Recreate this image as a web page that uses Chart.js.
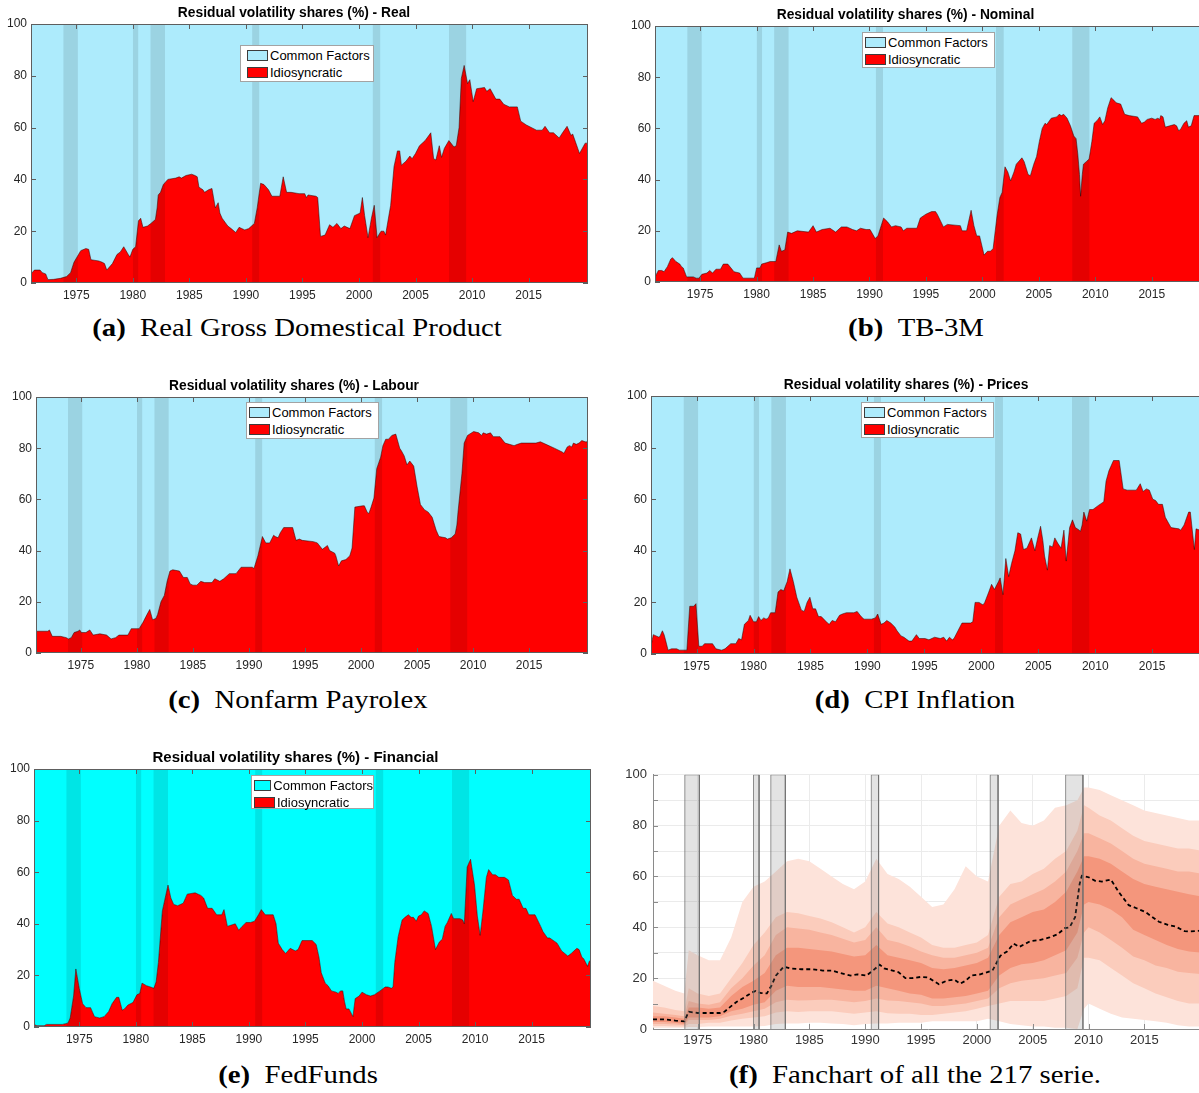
<!DOCTYPE html>
<html>
<head>
<meta charset="utf-8">
<script src="https://cdn.jsdelivr.net/npm/chart.js@4.4.1/dist/chart.umd.min.js"></script>
<style>
  body { margin: 0; width: 1199px; height: 1093px; overflow: hidden; background: #fff; position: relative;
         font-family: "Liberation Sans", Arial, sans-serif; }
  canvas { position: absolute; }
  .legend { position: absolute; background: #fff; border: 1px solid #a3a3a3; box-sizing: border-box;
            padding-top: 1px; font-size: 13px; color: #000; }
  .legend .row { height: 17px; display: flex; align-items: center; white-space: nowrap; }
  .legend .sw { width: 21px; height: 11px; border: 1px solid #3c3c3c; box-sizing: border-box; margin-right: 2px; }
  .cap { position: absolute; transform: translateX(-50%) scaleX(1.15); white-space: nowrap;
         font-family: "Liberation Serif", "DejaVu Serif", serif; font-size: 25px; line-height: 30px; color: #000; }
</style>
</head>
<body>
<div class="cap" style="left:297px;top:313px"><b>(a)</b>&ensp;Real Gross Domestical Product</div>
<div class="cap" style="left:916px;top:313px"><b>(b)</b>&ensp;TB-3M</div>
<div class="cap" style="left:298px;top:685px"><b>(c)</b>&ensp;Nonfarm Payrolex</div>
<div class="cap" style="left:915px;top:685px"><b>(d)</b>&ensp;CPI Inflation</div>
<div class="cap" style="left:298px;top:1060px"><b>(e)</b>&ensp;FedFunds</div>
<div class="cap" style="left:915px;top:1060px"><b>(f)</b>&ensp;Fanchart of all the 217 serie.</div>
<script>
// ---------------- data ----------------
const recessionStart = [1973.85, 1980.0, 1981.55, 1990.55, 2001.2, 2007.95];
const recessionEnd   = [1975.15, 1980.5, 1982.85, 1991.2, 2001.9, 2009.5];
const xTickYears = [1975, 1980, 1985, 1990, 1995, 2000, 2005, 2010, 2015];
const shareTicks = [0, 20, 40, 60, 80, 100];
const fanTicks = [0, 10, 20, 30, 40, 50, 60, 70, 80, 90, 100];

// idiosyncratic share (%) — [year, value]
const realShare = [
  [1971.0,3.5],[1971.3,5],[1971.8,5],[1972.0,4],[1972.3,3.5],[1972.5,1.3],[1973.0,1.4],[1973.6,1.8],[1974.15,2.5],[1974.5,4],
  [1974.8,8],[1975.2,11],[1975.4,12.5],[1975.85,13.3],[1976.1,13],[1976.3,9],[1977.0,8.5],[1977.3,8],[1977.5,7.5],[1977.7,5],
  [1978.2,7.5],[1978.6,11],[1978.9,12],[1979.2,14],[1979.6,11],[1979.75,10],[1980.0,13],[1980.25,14],[1980.5,24],[1980.7,25],
  [1980.9,21.5],[1981.3,22],[1981.6,23],[1982.0,24.5],[1982.15,29],[1982.25,34],[1982.45,35],[1982.7,38],[1983.1,40],[1983.8,40.5],
  [1984.1,41],[1984.3,40.5],[1984.7,41.5],[1985.2,42],[1985.5,41.5],[1985.7,41],[1985.85,37],[1986.2,36],[1986.35,35],[1986.7,36],
  [1987.0,36.5],[1987.3,29],[1987.55,31],[1987.7,27],[1987.9,25],[1988.4,22],[1988.7,21],[1989.1,19.5],[1989.4,21.5],[1989.9,20.5],
  [1990.25,21],[1990.75,23],[1991.0,29],[1991.3,38.5],[1991.6,38],[1992.0,36],[1992.3,33.5],[1993.0,33.5],[1993.3,41],[1993.6,35],
  [1994.0,35],[1994.7,34.5],[1995.2,34.5],[1995.35,33],[1995.5,34],[1996.2,33.5],[1996.35,33],[1996.6,18],[1997.0,18.5],[1997.4,22.5],
  [1997.7,21.5],[1998.05,23],[1998.4,21],[1998.7,22],[1999.2,21],[1999.6,26],[2000.1,27],[2000.3,33],[2000.5,26],[2000.8,17.5],
  [2001.1,25],[2001.35,30],[2001.6,17.5],[2001.95,20],[2002.2,20],[2002.35,18.5],[2002.8,30],[2003.1,45],[2003.4,51],[2003.6,51],
  [2003.75,45.5],[2004.15,47],[2004.5,49],[2004.7,48],[2005.0,50],[2005.35,53],[2005.85,55],[2006.35,58],[2006.6,48],[2006.8,47.5],
  [2007.1,53],[2007.3,48.5],[2007.55,52],[2007.95,55],[2008.4,52.5],[2008.6,53],[2008.85,60],[2009.05,79],[2009.3,84],[2009.6,77],
  [2009.8,78.5],[2010.1,70],[2010.4,75],[2011.1,75.5],[2011.3,74],[2011.6,75],[2012.1,71],[2012.45,71],[2012.8,69],[2013.3,68],
  [2014.0,68],[2014.3,62.5],[2014.8,61],[2015.7,59],[2016.2,59],[2016.45,60.5],[2016.85,58],[2017.2,58],[2017.7,56],[2018.0,58],
  [2018.4,60.5],[2018.75,57],[2018.9,57.5],[2019.5,50],[2019.75,52],[2020.0,54],[2020.25,54]
];
const nominalShare = [
  [1971.0,2],[1971.3,4.5],[1971.6,4.5],[1971.8,4],[1972.1,6],[1972.4,9],[1972.55,9.5],[1972.85,8],[1973.2,7],[1973.35,6],
  [1973.5,5.5],[1973.8,2],[1974.4,2],[1974.65,1.5],[1974.9,1.5],[1975.15,3],[1975.6,3.5],[1975.85,4.5],[1976.1,3.5],[1976.4,5],
  [1976.8,5],[1977.05,7],[1977.45,7],[1978.0,4],[1978.5,3.5],[1978.8,1.5],[1979.8,1.5],[1980.0,5.5],[1980.3,5.5],[1980.45,7],
  [1980.85,7.5],[1981.2,8],[1981.7,8],[1982.0,14.5],[1982.2,12],[1982.5,12.5],[1982.75,19.5],[1983.1,19],[1983.6,20],[1984.6,19.5],
  [1985.0,22],[1985.3,19.5],[1985.8,20.5],[1986.5,21],[1987.0,19.5],[1987.5,21.5],[1988.0,21.5],[1988.5,20.5],[1988.85,20],[1989.2,21],
  [1989.7,20.5],[1990.05,20.5],[1990.5,17],[1990.75,18],[1991.25,25],[1991.6,23.5],[1991.95,21.5],[1992.3,22],[1992.8,21.5],[1993.0,20],
  [1993.3,21],[1994.2,21],[1994.5,25],[1995.0,26.5],[1995.5,27.5],[1995.85,27.5],[1996.0,26.5],[1996.55,21.5],[1996.9,22.5],[1998.05,22],
  [1998.2,20],[1998.6,20],[1999.0,28],[1999.25,22],[1999.5,18],[1999.75,18],[2000.15,10.5],[2000.45,12],[2000.7,12],[2000.95,13],
  [2001.3,26],[2001.55,33],[2001.75,35],[2002.0,45],[2002.25,43],[2002.5,39.5],[2002.8,43],[2003.0,46],[2003.5,48.5],[2003.7,47],
  [2004.05,42],[2004.25,41.5],[2004.55,46],[2004.8,49],[2005.05,55],[2005.3,60],[2005.55,62],[2005.7,61.5],[2006.1,64],[2006.6,64.5],
  [2006.8,65.5],[2007.0,65],[2007.2,65.5],[2007.5,64],[2007.8,61],[2008.1,57],[2008.3,56],[2008.45,50],[2008.6,42],[2008.7,33.5],
  [2008.85,42],[2008.95,46],[2009.2,47],[2009.45,48],[2009.7,55],[2009.9,62],[2010.15,63],[2010.4,64.5],[2010.65,61.5],[2010.85,63],
  [2011.1,68],[2011.4,72],[2011.65,71],[2011.85,70],[2012.25,69.5],[2012.6,65.5],[2013.0,65],[2013.75,64.5],[2014.1,62],[2014.35,62.5],
  [2014.6,63.5],[2015.0,64],[2015.3,63.5],[2015.55,64],[2015.7,63.5],[2015.8,65],[2016.0,64.5],[2016.2,60.5],[2016.6,61],[2017.0,61.5],
  [2017.2,61],[2017.4,59],[2017.6,60],[2017.85,62],[2018.1,63],[2018.25,60.5],[2018.5,61],[2018.75,65],[2019.25,65],[2019.45,60],
  [2020.0,58],[2020.25,58]
];
const labourShare = [
  [1971.0,8.5],[1972.05,8.5],[1972.2,9],[1972.45,6.5],[1973.2,6.5],[1973.7,6],[1973.9,5.5],[1974.15,6],[1974.4,8],[1974.75,8.5],
  [1974.9,9],[1975.05,8],[1975.45,8],[1975.8,9],[1976.1,7],[1976.7,7.5],[1977.3,7],[1977.7,5.5],[1978.1,6],[1978.4,7],
  [1979.2,7],[1979.5,9.5],[1980.2,9.5],[1980.55,12],[1980.9,15],[1981.15,17],[1981.4,13],[1981.7,13.5],[1981.85,15],[1982.15,20],
  [1982.45,22.5],[1982.7,28],[1982.95,32],[1983.2,32.5],[1983.8,32],[1984.15,29.5],[1984.5,29.5],[1984.75,27],[1985.0,26.5],[1985.35,26.5],
  [1985.7,28],[1986.05,27.5],[1986.7,27.5],[1986.95,29],[1987.4,28],[1987.75,29],[1988.25,31],[1988.85,31],[1989.3,33.5],[1990.3,33.5],
  [1990.45,33],[1990.8,38],[1991.2,45.5],[1991.5,43],[1991.85,43],[1992.2,46],[1992.35,45.5],[1992.6,45],[1992.8,47],[1993.1,49],
  [1993.9,49],[1994.2,44],[1994.5,44.5],[1994.75,44],[1995.75,43.5],[1996.1,43],[1996.55,40.5],[1996.85,41.5],[1997.0,42],[1997.2,40],
  [1997.65,39],[1997.75,38],[1998.0,34],[1998.25,36],[1998.65,36.5],[1999.0,38],[1999.2,41],[1999.45,57],[2000.15,57.5],[2000.3,57.5],
  [2000.55,55],[2000.7,54.5],[2000.9,57],[2001.15,60.5],[2001.4,72],[2001.75,76.5],[2001.95,81],[2002.2,83.5],[2002.45,83.5],[2002.75,85],
  [2003.1,85.5],[2003.45,80],[2003.6,79],[2003.85,77],[2004.1,73.5],[2004.35,75],[2004.7,73],[2005.0,65],[2005.3,58],[2005.65,56],
  [2006.0,55],[2006.35,53],[2006.7,48],[2006.95,45.5],[2007.55,45],[2007.7,44.5],[2008.05,45],[2008.4,46.5],[2008.55,50],[2008.65,55],
  [2009.0,70],[2009.2,82],[2009.5,85],[2010.05,86.5],[2010.5,86],[2010.75,85],[2010.9,86],[2011.2,85.5],[2011.55,86],[2011.8,84.5],
  [2012.4,84.5],[2012.85,82],[2013.25,81.5],[2013.65,81],[2013.95,81.5],[2014.3,82],[2015.6,82],[2016.0,82.5],[2016.5,81.5],[2017.25,80],
  [2017.95,78.5],[2018.1,78],[2018.4,80.5],[2018.6,81],[2018.8,80.5],[2018.95,82],[2019.2,81.5],[2019.45,82],[2019.7,83],[2020.0,82.5],
  [2020.25,82.5]
];
const pricesShare = [
  [1971.0,3],[1971.2,7.5],[1971.45,7],[1971.7,6.5],[1971.8,7],[1972.0,9],[1972.15,7.5],[1972.3,5],[1972.5,1.5],[1972.8,2],
  [1973.25,2],[1973.5,1.5],[1974.15,1.5],[1974.4,18.5],[1974.75,18.5],[1974.95,19.5],[1975.2,3],[1975.5,3],[1975.7,4],[1976.4,4],
  [1976.7,2],[1977.2,1.5],[1977.5,2],[1978.0,4],[1978.45,4],[1978.7,6],[1978.95,5.5],[1979.2,11.5],[1979.55,13],[1979.7,15],
  [1980.0,12.5],[1980.25,12.5],[1980.45,14.5],[1980.65,13],[1980.9,14],[1981.1,13.5],[1981.3,14],[1981.5,16],[1981.9,16],[1982.15,24],
  [1982.4,25],[1982.65,24.5],[1982.95,28],[1983.2,33],[1983.5,28],[1983.8,22],[1984.2,17],[1984.45,16.5],[1984.7,20],[1984.95,22],
  [1985.2,17.5],[1985.45,17.5],[1985.7,14.5],[1985.95,14.5],[1986.5,12],[1986.65,11.5],[1986.9,13],[1987.2,12.5],[1987.55,15],[1987.8,15.5],
  [1988.15,16],[1988.8,16],[1989.1,16.5],[1989.45,14.5],[1989.7,13.5],[1990.35,13.5],[1990.7,14],[1990.9,15.5],[1991.2,11.5],[1991.45,12],
  [1991.7,13],[1992.05,12],[1992.4,10.5],[1992.6,9],[1992.95,7],[1993.2,6.5],[1993.65,5],[1993.9,5],[1994.3,7.5],[1994.55,6],
  [1995.05,6],[1995.4,5.5],[1995.9,6.5],[1996.4,6],[1996.7,6.5],[1996.95,5],[1997.2,6.5],[1997.45,5.5],[1997.6,6],[1997.95,9],
  [1998.3,12],[1999.05,12],[1999.25,12.5],[1999.45,20],[1999.8,20],[2000.15,19],[2000.3,20],[2000.65,24],[2000.9,27],[2001.15,25],
  [2001.5,28],[2001.65,29.5],[2001.9,23],[2002.15,37],[2002.4,30],[2002.65,35],[2002.95,40],[2003.2,47],[2003.45,46.5],[2003.7,40.5],
  [2004.0,41],[2004.2,43],[2004.4,45],[2004.7,40],[2004.95,45],[2005.2,49.5],[2005.4,44],[2005.55,38],[2005.8,32.5],[2006.0,42],
  [2006.25,41.5],[2006.45,45],[2006.7,43],[2007.0,41],[2007.25,48],[2007.45,36],[2007.75,49],[2008.0,52],[2008.25,49],[2008.6,48],
  [2008.7,47.5],[2008.85,50],[2009.0,55],[2009.25,51.5],[2009.5,56],[2009.8,56],[2010.25,57.5],[2010.75,59],[2010.95,67],[2011.2,71],
  [2011.6,75],[2012.1,75],[2012.45,64],[2012.8,63.5],[2013.6,63.5],[2013.95,66],[2014.2,63],[2014.5,64],[2014.75,63.5],[2015.05,60],
  [2015.3,59.5],[2015.55,58],[2015.9,58],[2016.15,53],[2016.65,49],[2017.35,48.5],[2017.5,48],[2017.8,50],[2018.2,55],[2018.35,55],
  [2018.7,40.5],[2018.85,48.5],[2019.2,48],[2019.5,49],[2020.0,49],[2020.25,49]
];
const financialShare = [
  [1971.0,1],[1971.25,0.5],[1971.9,0.5],[1972.1,1],[1973.5,1],[1974.0,1.5],[1974.2,3.5],[1974.5,12],[1974.7,22.5],[1975.0,15],
  [1975.3,9],[1975.6,7.5],[1976.0,7.5],[1976.35,4],[1976.8,3.5],[1977.2,4],[1977.6,6],[1977.9,9],[1978.3,11.5],[1978.5,11.5],
  [1978.8,6.5],[1979.0,7],[1979.3,8.5],[1979.75,9.5],[1980.1,12.5],[1980.35,13],[1980.55,17],[1980.95,16],[1981.3,15.5],[1981.6,15],
  [1981.8,17.5],[1982.0,25],[1982.35,45],[1982.6,50],[1982.85,55],[1983.1,50],[1983.35,47.5],[1983.7,47],[1984.2,48],[1984.55,51.5],
  [1985.25,52],[1985.75,51],[1986.0,50],[1986.35,46],[1986.75,46],[1987.15,43.5],[1987.6,43.5],[1987.8,45.5],[1988.1,39],[1988.45,39.5],
  [1988.8,40],[1989.1,37.5],[1989.4,39],[1989.75,40.5],[1990.15,40.5],[1990.5,41],[1990.85,43.5],[1991.1,45.5],[1991.45,43.5],[1992.15,43.5],
  [1992.4,40],[1992.6,32.5],[1992.95,30],[1993.25,28.5],[1993.65,30.5],[1994.1,29.5],[1994.35,30],[1994.7,33.5],[1995.6,33.5],[1995.95,32],
  [1996.2,27],[1996.4,21],[1996.75,17],[1997.0,16],[1997.3,14],[1997.7,13.5],[1997.9,13],[1998.1,14],[1998.3,14],[1998.45,10],
  [1998.6,7],[1998.85,7],[1999.2,4],[1999.4,11],[1999.75,12],[2000.0,13.5],[2000.4,12.5],[2000.75,12],[2001.1,12.5],[2001.6,14],
  [2002.05,15.5],[2002.3,15.5],[2002.6,15],[2002.75,15.5],[2002.9,25],[2003.2,35],[2003.55,41.5],[2003.8,42.5],[2004.1,43.5],[2004.35,42.5],
  [2004.55,42.5],[2004.8,41],[2005.0,43],[2005.25,43.5],[2005.5,45],[2005.85,44],[2006.15,39],[2006.5,30],[2006.85,33],[2007.1,34],
  [2007.35,39],[2007.55,40.5],[2007.9,44],[2008.1,42],[2008.65,42],[2008.9,41.5],[2009.05,40],[2009.3,62],[2009.6,65],[2009.95,55],
  [2010.2,43],[2010.45,35.5],[2010.7,45],[2011.0,58],[2011.2,61],[2011.55,59],[2011.8,59],[2012.1,58],[2012.6,58],[2012.95,57],
  [2013.3,51],[2013.65,49.5],[2013.9,49.5],[2014.25,46],[2014.5,46],[2014.75,43.5],[2015.3,43.5],[2015.8,39],[2016.0,37],[2016.4,34.5],
  [2016.6,34.5],[2017.25,32.5],[2017.65,29.5],[2018.2,27.5],[2018.5,28.5],[2019.0,30.5],[2019.2,30],[2019.45,27],[2019.6,26.5],[2019.95,23.5],
  [2020.1,25.5],[2020.25,26]
];

// fanchart of all series: quantile bands on a common year grid, plus the median
const fanYears = [1971, 1972, 1973, 1973.8, 1974.2, 1975, 1976, 1977, 1978, 1979,
  1980, 1981, 1982, 1983, 1984, 1985, 1986, 1987, 1988, 1989,
  1990, 1991, 1992, 1993, 1994, 1995, 1996, 1997, 1998, 1999,
  2000, 2001, 2002, 2003, 2004, 2005, 2006, 2007, 2008, 2009,
  2009.6, 2010, 2011, 2012, 2013, 2014, 2015, 2016, 2017, 2018,
  2019, 2020.25];
const fanHi1 = [19, 17, 15, 14, 31, 29, 27, 27, 36, 50,
  56, 58, 62, 66, 67, 66, 63, 60, 57, 55,
  58, 67, 61, 59, 56, 52, 48, 49, 55, 64,
  60, 58, 80, 86, 81, 80, 82, 87, 88, 90,
  95, 95, 94, 92, 90, 88, 86, 85, 84, 83,
  82, 82];
const fanHi2 = [9, 8.5, 7.5, 7, 16, 14, 13, 14, 20, 26,
  33, 38, 44, 46, 45.5, 44.5, 43.5, 42, 40, 38,
  40, 46, 41.5, 40, 38, 36, 33, 32, 32, 33,
  34, 37, 52, 57, 58, 61, 63, 67, 70, 78,
  88, 87, 84, 82, 79, 76, 74, 73, 72, 71,
  71, 70];
const fanHi3 = [6.5, 6, 5.5, 5, 11, 10, 9.5, 10.5, 16, 20,
  25, 29, 37, 40, 39.5, 39, 38, 37, 35.5, 34,
  35, 40, 35, 34, 32.5, 30.5, 29, 28, 28, 29,
  30, 32, 44, 49, 51, 53, 55, 58, 62, 70,
  77, 77, 75, 73, 70, 67, 65, 64, 63, 62,
  62, 61];
const fanHi4 = [5, 5, 4.5, 4, 8.5, 8.5, 8, 8.5, 13, 16.5,
  19, 22, 29, 32, 32, 31.5, 31, 30.5, 29.5, 28.5,
  29, 33, 29, 28, 27, 26, 24, 23.5, 24, 25,
  26, 28, 37, 42, 44, 46, 47, 50, 54, 62,
  68, 68, 67, 65, 62, 59, 57, 56, 55, 54,
  53, 52];
const fanLo4 = [2.8, 2.8, 2.5, 2, 4.5, 4.5, 4.5, 5, 7, 8,
  9.5, 10.5, 15, 17, 16.5, 16.5, 16.5, 16, 15.5, 15,
  15, 17, 16, 15, 14, 13.5, 12, 12, 12.5, 13,
  14, 15, 21, 24, 25.5, 26, 27, 29, 31, 38,
  49, 50, 49, 47, 44, 39, 37, 35, 33, 31.5,
  30.5, 30];
const fanLo3 = [2, 2, 1.8, 1.5, 3.5, 3.5, 3.5, 4, 5.2, 6,
  7, 8, 10.5, 11.5, 11.2, 11.3, 11.5, 11.5, 11, 10.5,
  11, 12, 11.2, 11, 10.5, 10, 9, 9, 9.5, 10,
  11, 12, 16, 18, 19, 19.5, 20, 21, 22, 28,
  38, 40, 38, 35, 32, 28.5, 27, 25, 24, 22.5,
  22, 21.5];
const fanLo2 = [1.2, 1.2, 1, 1, 2, 2, 2.5, 2.5, 3.3, 4,
  4.5, 5, 6.5, 7, 6.7, 7, 7, 7, 6.5, 6,
  6.5, 7, 6.2, 6, 6, 5.5, 5.5, 6, 6.5, 7,
  8, 9, 10, 11, 11, 11, 11, 12, 13, 16,
  28, 28, 27, 24, 21, 18, 16, 14, 12.5, 11,
  10, 10];
const fanLo1 = [0.5, 0.5, 0.5, 0.5, 0.8, 0.8, 1, 1, 1, 1,
  1, 1.2, 2, 2.2, 2.2, 2.5, 2.5, 2.2, 2, 1.5,
  2, 2.2, 2.2, 2.5, 2.5, 2.5, 3, 3, 3, 3,
  3, 4, 3, 2, 1.5, 1, 1, 0.5, 0.5, 0,
  8, 10, 8, 6, 4.5, 4, 3.5, 3, 2.5, 1.5,
  1, 1];
const fanMedian = [
  [1971.0,3.8],[1972,3.8],[1973,3.3],[1973.8,3.0],[1974.2,6.8],[1975,6.3],[1976,6.3],[1977,6.3],[1977.4,6.8],[1978,9],
  [1978.5,10.7],[1979.2,12.5],[1979.8,14.2],[1980.2,15],[1980.6,14.2],[1981.2,14],[1981.6,17],[1982.0,21],[1982.7,24.5],[1983.3,23.8],
  [1984.3,23.5],[1985.3,23.5],[1986.2,23],[1987,23],[1987.8,22],[1988.7,21],[1989.3,21.5],[1990.1,21],[1990.7,23],[1991.3,25.3],
  [1991.7,23.8],[1992.2,23.3],[1993,22.3],[1993.6,20],[1994.2,20],[1995,20.5],[1995.6,20.3],[1996.1,19],[1996.6,17.6],[1997.3,19],
  [1998,19.4],[1998.5,17.8],[1999,19],[1999.5,21],[2000.3,21.5],[2001.4,23],[2002.1,28.8],[2002.7,30.5],[2003.3,33.6],[2003.8,32.3],
  [2004.8,34.6],[2005.6,35],[2006.5,36],[2007.2,37.2],[2007.9,39.7],[2008.3,40],[2008.8,44],[2009.2,57],[2009.4,60.3],[2010,59.7],
  [2010.6,58.3],[2011.2,58],[2012,58.8],[2012.7,53.9],[2013.6,48.7],[2014.3,47.5],[2015.1,46],[2016.3,42.2],[2017.1,41],[2017.8,40.3],
  [2018.6,38.5],[2019,38.4],[2020.25,38.7]
];

// ---------------- styling / layout ----------------
const X_MIN = 1971, X_MAX = 2020.25;
const SKY = 'rgb(173,235,252)';
const AQUA = 'rgb(0,255,255)';
const RED = 'rgb(255,0,0)';
const FAN = ['rgb(253,227,218)', 'rgb(251,204,188)', 'rgb(248,180,159)', 'rgb(244,150,124)'];
const TICK_FONT = { family: '"Liberation Sans", Arial, sans-serif', size: 12 };

const axesDecor = {
  id: 'axesDecor',
  afterDatasetsDraw(chart, args, o) {
    const { ctx, chartArea: a } = chart;
    const x = chart.scales.x, y = chart.scales.y;
    ctx.save();
    ctx.strokeStyle = o.color;
    ctx.lineWidth = 1;
    if (o.box) ctx.strokeRect(a.left + 0.5, a.top + 0.5, a.width - 1, a.height - 1);
    ctx.beginPath();
    x.ticks.forEach(t => {
      const px = Math.round(x.getPixelForValue(t.value)) + 0.5;
      ctx.moveTo(px, a.bottom); ctx.lineTo(px, a.bottom - o.len);
      if (o.box) { ctx.moveTo(px, a.top); ctx.lineTo(px, a.top + o.len); }
    });
    y.ticks.forEach(t => {
      const py = Math.round(y.getPixelForValue(t.value)) + 0.5;
      ctx.moveTo(a.left, py); ctx.lineTo(a.left + o.len, py);
      if (o.box) { ctx.moveTo(a.right, py); ctx.lineTo(a.right - o.len, py); }
    });
    ctx.stroke();
    ctx.restore();
  }
};

function toPoints(pairs) { return pairs.map(d => ({ x: d[0], y: d[1] })); }

function placeCanvas(col, rect, topExtra, bottomExtra) {
  const cv = document.createElement('canvas');
  cv.width = rect.R - col + 4;
  cv.height = topExtra + (rect.B - rect.T) + bottomExtra;
  cv.style.left = col + 'px';
  cv.style.top = (rect.T - topExtra) + 'px';
  document.body.appendChild(cv);
  return cv;
}

function buildLegend(chart, lg) {
  const box = document.createElement('div');
  box.className = 'legend';
  Object.assign(box.style, { left: lg.left + 'px', top: lg.top + 'px', width: lg.width + 'px', height: lg.height + 'px' });
  chart.data.datasets.filter(d => d.label).sort((a, b) => a.legendOrder - b.legendOrder).forEach(d => {
    const row = document.createElement('div');
    row.className = 'row';
    row.style.paddingLeft = lg.pad + 'px';
    const sw = document.createElement('span');
    sw.className = 'sw';
    sw.style.background = d.backgroundColor;
    const tx = document.createElement('span');
    tx.textContent = d.label;
    row.append(sw, tx);
    box.append(row);
  });
  document.body.append(box);
}

function shareChart(p) {
  const titleH = 23, xH = 24;
  const pb = 11 - 0.6 * p.fs;
  const pt = titleH - 1.2 * p.fs - pb;
  const cv = placeCanvas(p.col, p.rect, titleH, xH);
  const datasets = recessionStart.map((s, i) => ({
    data: [{ x: s, y: 100 }, { x: recessionEnd[i], y: 100 }],
    fill: 'origin', backgroundColor: 'rgba(0,0,0,0.1)', borderWidth: 0, pointRadius: 0
  }));
  const pts = toPoints(p.series);
  datasets.push({ label: 'Idiosyncratic', legendOrder: 2, data: pts, fill: 'origin', backgroundColor: RED,
    borderColor: 'rgba(30,0,0,0.75)', borderWidth: 0.7, pointRadius: 0 });
  datasets.push({ label: 'Common Factors', legendOrder: 1, data: pts, fill: 'end', backgroundColor: p.common,
    borderWidth: 0, pointRadius: 0 });
  const chart = new Chart(cv, {
    type: 'line',
    data: { datasets },
    options: {
      responsive: false, animation: false,
      layout: { padding: { left: 0, right: 4, top: 0, bottom: 0 } },
      plugins: {
        legend: { display: false }, tooltip: { enabled: false },
        title: { display: true, text: p.title, color: '#000', padding: { top: pt, bottom: pb },
                 font: { family: '"Liberation Sans", Arial, sans-serif', size: p.fs, weight: 'bold' } },
        axesDecor: { box: true, color: '#5e5e5e', len: 5 }
      },
      scales: {
        x: {
          type: 'linear', min: X_MIN, max: X_MAX,
          afterBuildTicks: s => { s.ticks = xTickYears.map(v => ({ value: v })); },
          afterFit: s => { s.height = xH; },
          grid: { display: false, drawTicks: false }, border: { display: false },
          ticks: { font: TICK_FONT, color: '#262626', padding: 5, maxRotation: 0, autoSkip: false, callback: v => String(v) }
        },
        y: {
          min: 0, max: 100,
          afterBuildTicks: s => { s.ticks = shareTicks.map(v => ({ value: v })); },
          afterFit: s => { s.width = p.rect.L - p.col; },
          grid: { display: false, drawTicks: false }, border: { display: false },
          ticks: { font: TICK_FONT, color: '#262626', padding: 4, autoSkip: false, callback: v => String(v) }
        }
      }
    },
    plugins: [axesDecor]
  });
  buildLegend(chart, p.legend);
}

function fanChart(p) {
  const topPad = 10, xH = 24;
  const cv = placeCanvas(p.col, p.rect, topPad, xH);
  const datasets = recessionStart.map((s, i) => ({
    data: [{ x: s, y: 0 }, { x: s, y: 100 }, { x: recessionEnd[i], y: 100 }, { x: recessionEnd[i], y: 0 }],
    fill: 'origin', backgroundColor: 'rgba(128,128,128,0.22)', borderColor: 'rgba(110,110,110,0.75)',
    borderWidth: 1, pointRadius: 0
  }));
  datasets.push({ data: toPoints(fanMedian), borderColor: '#000', borderWidth: 1.8, borderDash: [4, 3],
    fill: false, pointRadius: 0 });
  const his = [fanHi4, fanHi3, fanHi2, fanHi1];
  const los = [fanLo4, fanLo3, fanLo2, fanLo1];
  const colours = [FAN[3], FAN[2], FAN[1], FAN[0]];
  his.forEach((hi, k) => {
    const hiIndex = datasets.length;
    datasets.push({ data: fanYears.map((yr, i) => ({ x: yr, y: hi[i] })), fill: hiIndex + 1,
      backgroundColor: colours[k], borderWidth: 0, pointRadius: 0 });
    datasets.push({ data: fanYears.map((yr, i) => ({ x: yr, y: los[k][i] })), fill: false,
      borderWidth: 0, pointRadius: 0 });
  });
  const fanFont = { family: '"Liberation Sans", Arial, sans-serif', size: 13 };
  new Chart(cv, {
    type: 'line',
    data: { datasets },
    options: {
      responsive: false, animation: false,
      layout: { padding: { left: 0, right: 4, top: topPad, bottom: 0 } },
      plugins: {
        legend: { display: false }, tooltip: { enabled: false },
        axesDecor: { box: false, color: '#8a8a8a', len: 5 }
      },
      scales: {
        x: {
          type: 'linear', min: X_MIN, max: X_MAX,
          afterBuildTicks: s => { s.ticks = xTickYears.map(v => ({ value: v })); },
          afterFit: s => { s.height = xH; },
          grid: { color: '#ebebeb', drawTicks: false }, border: { display: true, color: '#8a8a8a' },
          ticks: { font: fanFont, color: '#333', padding: 4, maxRotation: 0, autoSkip: false, callback: v => String(v) }
        },
        y: {
          min: 0, max: 100,
          afterBuildTicks: s => { s.ticks = fanTicks.map(v => ({ value: v })); },
          afterFit: s => { s.width = p.rect.L - p.col; },
          grid: { color: '#ebebeb', drawTicks: false }, border: { display: true, color: '#8a8a8a' },
          ticks: { font: fanFont, color: '#333', padding: 6, autoSkip: false,
                   callback: v => (v % 20 === 0 ? String(v) : '') }
        }
      }
    },
    plugins: [axesDecor]
  });
}

shareChart({ col: 0, rect: { L: 31, T: 24, R: 588, B: 283 }, series: realShare, common: SKY, fs: 13.8,
  title: 'Residual volatility shares (%) - Real', legend: { left: 240, top: 45, width: 134, height: 37, pad: 6 } });
shareChart({ col: 600, rect: { L: 655, T: 26, R: 1211, B: 282 }, series: nominalShare, common: SKY, fs: 13.8,
  title: 'Residual volatility shares (%) - Nominal', legend: { left: 862, top: 32, width: 133, height: 36, pad: 2 } });
shareChart({ col: 0, rect: { L: 36, T: 397, R: 588, B: 653 }, series: labourShare, common: SKY, fs: 13.8,
  title: 'Residual volatility shares (%) - Labour', legend: { left: 246, top: 402, width: 133, height: 37, pad: 2 } });
shareChart({ col: 600, rect: { L: 651, T: 396, R: 1212, B: 654 }, series: pricesShare, common: SKY, fs: 13.8,
  title: 'Residual volatility shares (%) - Prices', legend: { left: 861, top: 402, width: 133, height: 36, pad: 2 } });
shareChart({ col: 0, rect: { L: 34, T: 769, R: 591, B: 1027 }, series: financialShare, common: AQUA, fs: 15,
  title: 'Residual volatility shares (%) - Financial', legend: { left: 251, top: 775, width: 123, height: 34, pad: 2 } });
fanChart({ col: 600, rect: { L: 653, T: 771, R: 1203, B: 1029 } });
</script>
</body>
</html>
